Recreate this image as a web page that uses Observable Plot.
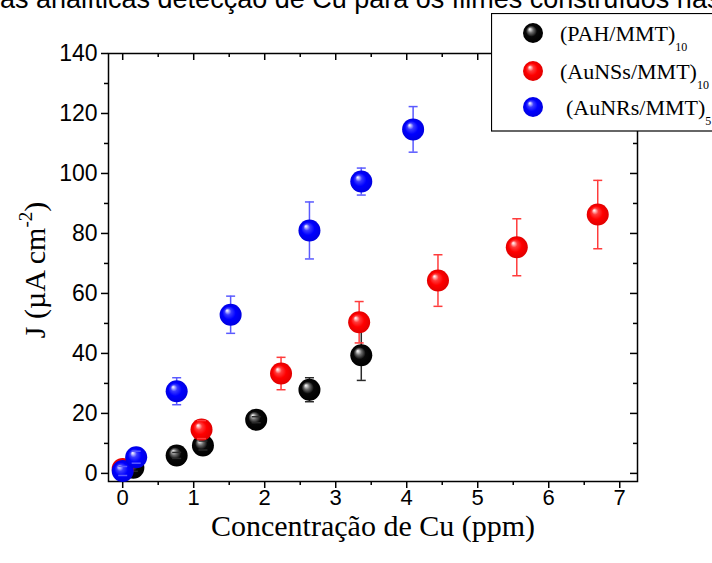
<!DOCTYPE html>
<html>
<head>
<meta charset="utf-8">
<script src="https://cdn.jsdelivr.net/npm/d3@7"></script>
<script src="https://cdn.jsdelivr.net/npm/@observablehq/plot@0.6"></script>
<style>
  body { margin: 0; background: #fff; }
  #wrap { position: relative; width: 712px; height: 563px; overflow: hidden; background: #fff; }
  #chart { position: absolute; left: 0; top: 0; }
  #title { position: absolute; left: 0; top: -15px; font-family: "Liberation Sans", Arial, sans-serif;
           font-size: 27px; white-space: nowrap; color: #000; line-height: 28px; }
  #ylabel { position: absolute; left: 35px; top: 270px; transform: translate(-50%, -50%) rotate(-90deg);
            font-family: "Liberation Serif", serif; font-size: 30px; white-space: nowrap; color: #000; }
  #ylabel sup { font-size: 19px; vertical-align: 0; position: relative; top: -13px; }
  #legend { position: absolute; left: 491px; top: 13px; }
  #defs { position: absolute; width: 0; height: 0; }
</style>
</head>
<body>
<div id="wrap">
  <svg id="defs" width="0" height="0">
    <defs>
      <radialGradient id="gBlack" cx="50%" cy="50%" r="50%" fx="33%" fy="30%">
        <stop offset="0%" stop-color="#ffffff"/>
        <stop offset="10%" stop-color="#d0d0d0"/>
        <stop offset="28%" stop-color="#6a6a6a"/>
        <stop offset="55%" stop-color="#080808"/>
        <stop offset="100%" stop-color="#000000"/>
      </radialGradient>
      <radialGradient id="gRed" cx="50%" cy="50%" r="50%" fx="33%" fy="30%">
        <stop offset="0%" stop-color="#ffffff"/>
        <stop offset="10%" stop-color="#ffc4c4"/>
        <stop offset="30%" stop-color="#ff3a3a"/>
        <stop offset="60%" stop-color="#ff0000"/>
        <stop offset="100%" stop-color="#e00000"/>
      </radialGradient>
      <radialGradient id="gBlue" cx="50%" cy="50%" r="50%" fx="33%" fy="30%">
        <stop offset="0%" stop-color="#ffffff"/>
        <stop offset="10%" stop-color="#c4c4ff"/>
        <stop offset="30%" stop-color="#3a3aff"/>
        <stop offset="60%" stop-color="#0000ff"/>
        <stop offset="100%" stop-color="#0000e0"/>
      </radialGradient>
    </defs>
  </svg>
  <div id="chart"></div>
  <div id="title">as analíticas detecção de Cu para os filmes construídos nas</div>
  <div id="ylabel">J (µA cm<sup>-2</sup>)</div>
  <svg id="legend" width="221" height="119"></svg>
</div>
<script>
// Cu concentration (ppm), current density J (µA cm^-2) and its error, per film
const concPAH = [0.15, 0.76, 1.13, 1.88, 2.63, 3.36];
const jPAH    = [1.9, 6.0, 9.3, 17.9, 27.9, 39.4];
const errPAH  = [1.2, 1.0, 1.5, 1.0, 4.0, 8.4];

const concAuNSs = [0.0, 1.11, 2.23, 3.33, 4.44, 5.55, 6.69];
const jAuNSs    = [1.5, 14.6, 33.3, 50.4, 64.3, 75.4, 86.3];
const errAuNSs  = [1.5, 3.0, 5.4, 6.9, 8.6, 9.5, 11.4];

const concAuNRs = [0.0, 0.19, 0.76, 1.52, 2.63, 3.36, 4.09];
const jAuNRs    = [0.8, 5.4, 27.4, 52.9, 81.0, 97.3, 114.7];
const errAuNRs  = [1.5, 2.0, 4.5, 6.2, 9.5, 4.5, 7.6];

// legend text and layer counts
const seriesNames = ["(PAH/MMT)", "(AuNSs/MMT)", "(AuNRs/MMT)"];
const seriesLayers = ["10", "10", "5"];

// axis ticks
const xMajor = [0, 1, 2, 3, 4, 5, 6, 7];
const xMinor = [0.5, 1.5, 2.5, 3.5, 4.5, 5.5, 6.5];
const yMajor = [0, 20, 40, 60, 80, 100, 120, 140];
const yMinor = [10, 30, 50, 70, 90, 110, 130];

const xTitle = "Concentração de Cu (ppm)";

const W = 712, H = 563;
const mL = 108, mR = 75, mT = 53, mB = 82;
const plotW = W - mL - mR, plotH = H - mT - mB;

const series = [
  {x: concPAH,   y: jPAH,   e: errPAH,   fill: "url(#gBlack)", bar: "#2a2a2a"},
  {x: concAuNSs, y: jAuNSs, e: errAuNSs, fill: "url(#gRed)",   bar: "#ff3c3c"},
  {x: concAuNRs, y: jAuNRs, e: errAuNRs, fill: "url(#gBlue)",  bar: "#5a5aff"}
];

// flat horizontal cap drawn at each end of an error bar
const cap = {
  draw(ctx, size) {
    const h = Math.sqrt(size / Math.PI);
    ctx.moveTo(-h, 0);
    ctx.lineTo(h, 0);
  }
};

const seriesMarks = series.flatMap(s => {
  const rows = s.x.map((x, i) => ({x, y: s.y[i], e: s.e[i]}));
  const ends = rows.flatMap(d => [{x: d.x, y: d.y + d.e}, {x: d.x, y: d.y - d.e}]);
  return [
    Plot.ruleX(rows, {x: "x", y1: d => d.y - d.e, y2: d => d.y + d.e, stroke: s.bar, strokeWidth: 1.5}),
    Plot.dot(rows, {x: "x", y: "y", r: 11, fill: s.fill, stroke: "none"}),
    Plot.dot(ends, {x: "x", y: "y", symbol: cap, r: 4.5, fill: "none", stroke: s.bar, strokeWidth: 1.5})
  ];
});

const chart = Plot.plot({
  width: W,
  height: H,
  marginLeft: mL, marginRight: mR, marginTop: mT, marginBottom: mB,
  style: {fontFamily: "'Liberation Sans', Arial, sans-serif", fontSize: "22px", background: "transparent", color: "#000"},
  x: {domain: [-0.2, 7.25]},
  y: {domain: [-2.7, 140]},
  marks: [
    // outward ticks with labels on left and bottom
    Plot.axisX({ticks: xMajor, tickSize: 7, tickPadding: 1, tickFormat: d3.format("d"), label: null, fontSize: 22, strokeWidth: 1.5}),
    Plot.axisY({ticks: yMajor, tickSize: 7, tickPadding: 4, tickFormat: d3.format("d"), label: null, fontSize: 23, strokeWidth: 1.5}),
    Plot.tickX(xMinor, {x: d => d, insetTop: plotH, insetBottom: -4, strokeWidth: 1.5}),
    Plot.tickY(yMinor, {y: d => d, insetLeft: -4, insetRight: plotW, strokeWidth: 1.5}),
    // inward ticks on top and right
    Plot.tickX(xMajor, {x: d => d, insetBottom: plotH - 7, strokeWidth: 1.5}),
    Plot.tickX(xMinor, {x: d => d, insetBottom: plotH - 4, strokeWidth: 1.5}),
    Plot.tickY(yMajor, {y: d => d, insetLeft: plotW - 7, strokeWidth: 1.5}),
    Plot.tickY(yMinor, {y: d => d, insetLeft: plotW - 4, strokeWidth: 1.5}),
    Plot.frame({stroke: "#000", strokeWidth: 1.5}),
    ...seriesMarks,
    Plot.text([xTitle], {frameAnchor: "bottom", dy: 45, lineAnchor: "middle", fontSize: 30,
                         fontFamily: "'Liberation Serif', serif", fill: "#000"})
  ]
});
document.getElementById("chart").append(chart);

// legend box with sphere markers
const leg = d3.select("#legend");
leg.append("rect").attr("x", 0.5).attr("y", 0.5).attr("width", 260).attr("height", 117.5)
   .attr("fill", "#fff").attr("stroke", "#000").attr("stroke-width", 1.2);
const rowY = [20, 58, 94];
const textX = [69, 69, 75];
series.forEach((s, i) => {
  leg.append("circle").attr("cx", 42).attr("cy", rowY[i]).attr("r", 10).attr("fill", s.fill);
  const t = leg.append("text").attr("x", textX[i]).attr("y", rowY[i] + 8)
     .attr("font-family", "'Liberation Serif', serif").attr("font-size", 22).attr("fill", "#000");
  t.append("tspan").text(seriesNames[i]);
  t.append("tspan").attr("dy", 10).attr("font-size", 12).text(seriesLayers[i]);
});
</script>
</body>
</html>
